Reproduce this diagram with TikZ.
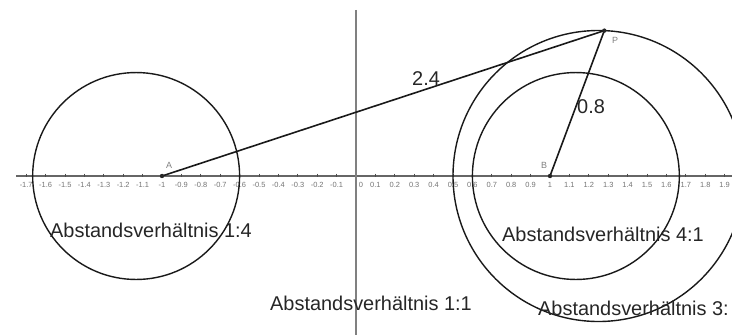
\documentclass[tikz,border=0pt]{standalone}
\usepackage{fontspec}
\setmainfont{Liberation Sans}
\begin{document}
\begin{tikzpicture}[x=1bp,y=-1bp,
  lbl/.style={font=\fontsize{20}{24}\selectfont, text=black!85, inner sep=0pt, anchor=base west},
  ticklbl/.style={font=\fontsize{7.5}{9}\selectfont, text=black!55, inner sep=0pt, anchor=base},
  ptlbl/.style={font=\fontsize{9}{10}\selectfont, text=black!50, inner sep=0pt, anchor=base west},
  curve/.style={line width=1.4bp, black!90},
  seg/.style={line width=1.6bp, black!90},
  axisline/.style={line width=1.6bp, black!60},
  midline/.style={line width=2.5bp, black!50}]
\useasboundingbox (0,0) rectangle (732,334);
\clip (0,0) rectangle (732,334);
\begin{scope}[shift={(356,176)}, x=194bp, y=194bp]
  % x axis
  \coordinate (xl) at (-1.75,0);
  \coordinate (xr) at (2.0,0);
  \draw[axisline] (xl) -- (xr);
  \foreach \i in {-17,...,19} {
    \draw[line width=0.8bp, black!70] (\i/10,0.012) -- (\i/10,-0.004);
  }
  \foreach \x/\t in {-1.7/-1.7,-1.6/-1.6,-1.5/-1.5,-1.4/-1.4,-1.3/-1.3,-1.2/-1.2,-1.1/-1.1,-1/-1,
      -0.9/-0.9,-0.8/-0.8,-0.7/-0.7,-0.6/-0.6,-0.5/-0.5,-0.4/-0.4,-0.3/-0.3,-0.2/-0.2,-0.1/-0.1,
      0.026/0,0.1/0.1,0.2/0.2,0.3/0.3,0.4/0.4,0.5/0.5,0.6/0.6,0.7/0.7,0.8/0.8,0.9/0.9,1/1,
      1.1/1.1,1.2/1.2,1.3/1.3,1.4/1.4,1.5/1.5,1.6/1.6,1.7/1.7,1.8/1.8,1.9/1.9} {
    \node[ticklbl] at (\x,-0.0567) {\t};
  }
  % perpendicular bisector (ratio 1:1)
  \coordinate (vt) at (0,0.856);
  \coordinate (vb) at (0,-0.85);
  \draw[midline] (vt) -- (vb);
  % Apollonius circles
  \draw[curve] (-17/15,0) circle[radius=8/15];
  \draw[curve] (17/15,0) circle[radius=8/15];
  \draw[curve] (1.25,0) circle[radius=0.75];
  % points and segments
  \coordinate (A) at (-1,0);
  \coordinate (B) at (1,0);
  \coordinate (P) at (1.28,0.7494);
  \draw[seg] (A) -- (P);
  \draw[seg] (B) -- (P);
  \fill[black!85] (A) circle[radius=2.2bp];
  \fill[black!85] (B) circle[radius=2.2bp];
  \fill[black!85] (P) circle[radius=2.2bp];
\end{scope}
% labels
\node[ptlbl] (lA) at (166,168) {A};
\node[ptlbl] (lB) at (541,168) {B};
\node[ptlbl] (lP) at (612,43) {P};
\node[lbl] (d1) at (412,85) {2.4};
\node[lbl] (d2) at (577,113) {0.8};
\node[lbl] (t14) at (50,237) {Abstandsverhältnis 1:4};
\node[lbl] (t11) at (270,310) {Abstandsverhältnis 1:1};
\node[lbl] (t41) at (502,241) {Abstandsverhältnis 4:1};
\node[lbl] (t31) at (538,315) {Abstandsverhältnis 3:};
\end{tikzpicture}
\end{document}
